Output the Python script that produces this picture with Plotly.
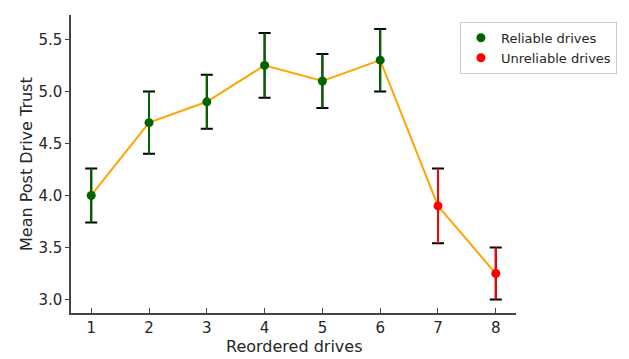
import plotly.graph_objects as go

drives = [1, 2, 3, 4, 5, 6, 7, 8]
mean_trust = [4.0, 4.7, 4.9, 5.25, 5.1, 5.3, 3.9, 3.25]
err = [0.26, 0.30, 0.26, 0.31, 0.26, 0.30, 0.36, 0.25]
reliable = [True, True, True, True, True, True, False, False]
y_ticks = [3.0, 3.5, 4.0, 4.5, 5.0, 5.5]

GREEN = "#006400"
RED = "#ff0000"
ORANGE = "#ffa500"
TXT = "#262626"
FONT = "DejaVu Sans"

rel_x = [d for d, r in zip(drives, reliable) if r]
rel_y = [m for m, r in zip(mean_trust, reliable) if r]
rel_e = [e for e, r in zip(err, reliable) if r]
unr_x = [d for d, r in zip(drives, reliable) if not r]
unr_y = [m for m, r in zip(mean_trust, reliable) if not r]
unr_e = [e for e, r in zip(err, reliable) if not r]

fig = go.Figure()

fig.add_trace(go.Scatter(x=drives, y=mean_trust, mode="lines",
                         line=dict(color=ORANGE, width=2), showlegend=False,
                         hoverinfo="skip"))

fig.add_trace(go.Scatter(x=drives, y=mean_trust, mode="markers",
                         marker=dict(opacity=0, size=1), showlegend=False,
                         error_y=dict(type="data", array=err, color="black",
                                      thickness=2, width=6),
                         hoverinfo="skip"))

fig.add_trace(go.Scatter(x=rel_x, y=rel_y, mode="markers",
                         marker=dict(opacity=0, size=1), showlegend=False,
                         error_y=dict(type="data", array=rel_e, color=GREEN,
                                      thickness=2, width=0),
                         hoverinfo="skip"))
fig.add_trace(go.Scatter(x=unr_x, y=unr_y, mode="markers",
                         marker=dict(opacity=0, size=1), showlegend=False,
                         error_y=dict(type="data", array=unr_e, color=RED,
                                      thickness=2, width=0),
                         hoverinfo="skip"))

fig.add_trace(go.Scatter(x=rel_x, y=rel_y, mode="markers", name="Reliable drives",
                         marker=dict(color=GREEN, size=9)))
fig.add_trace(go.Scatter(x=unr_x, y=unr_y, mode="markers", name="Unreliable drives",
                         marker=dict(color=RED, size=9)))

fig.update_layout(
    width=621, height=351,
    margin=dict(l=63, r=113, t=7, b=46),
    paper_bgcolor="white", plot_bgcolor="white",
    font=dict(family=FONT, color=TXT, size=15),
    legend=dict(x=0.874, y=0.977, xanchor="left", yanchor="top",
                bordercolor="#cccccc", borderwidth=1, bgcolor="white",
                font=dict(size=13, color=TXT), itemwidth=30),
    annotations=[
        dict(text="Reordered drives", xref="paper", yref="paper", x=0.5, y=0,
             xanchor="center", yanchor="middle", yshift=-33, showarrow=False,
             font=dict(size=16, color=TXT)),
        dict(text="Mean Post Drive Trust", xref="paper", yref="paper", x=0, y=0.5,
             xanchor="center", yanchor="middle", xshift=-45, textangle=-90,
             showarrow=False, font=dict(size=16, color=TXT)),
    ],
)
fig.update_xaxes(range=[0.65, 8.35], tickvals=drives, ticktext=[str(d) for d in drives],
                 showgrid=False, zeroline=False, showline=True, linecolor="#444444",
                 linewidth=1.5, ticks="inside", ticklen=5, tickcolor="#444444",
                 tickfont=dict(size=15, color=TXT), automargin=False)
fig.update_yaxes(range=[2.871, 5.734], tickvals=y_ticks, ticktext=[f"{v:.1f}" for v in y_ticks],
                 showgrid=False, zeroline=False, showline=True, linecolor="#444444",
                 linewidth=1.5, ticks="outside", ticklen=4, tickcolor="#444444",
                 tickfont=dict(size=15, color=TXT), automargin=False)

fig.write_html("out.html")
